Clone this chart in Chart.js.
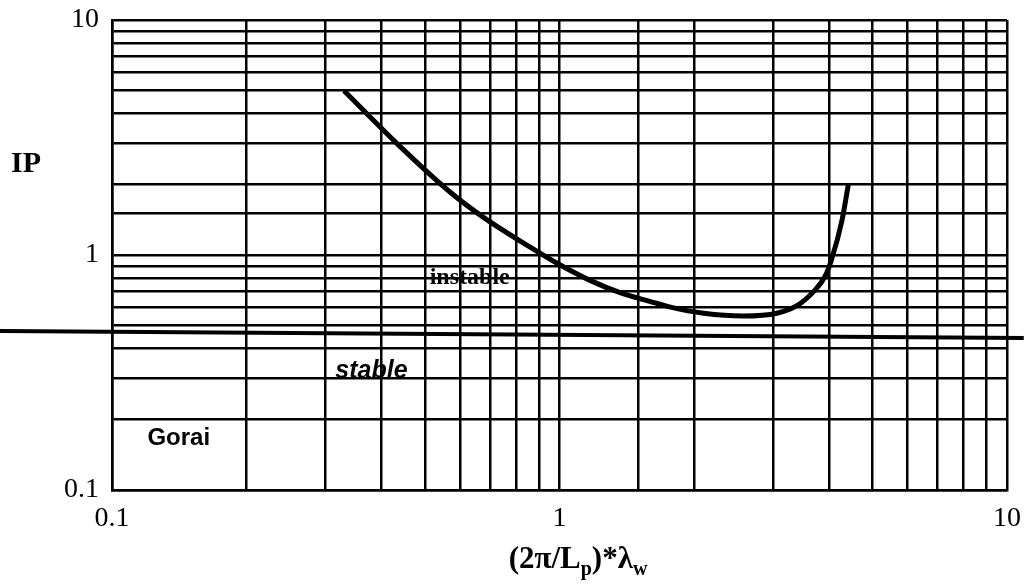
<!DOCTYPE html>
<html>
<head>
<meta charset="utf-8">
<script src="https://cdn.jsdelivr.net/npm/chart.js@4"></script>
<style>
  html, body { margin: 0; padding: 0; background: #fff; }
  #wrap { width: 1026px; height: 585px; }
</style>
</head>
<body>
<div id="wrap"><canvas id="c" width="1026" height="585"></canvas></div>
<script>
// ---- data ----
const waveX = [0.33, 0.44, 0.57, 0.675, 0.86, 0.99, 1.17, 1.37, 1.59, 1.77, 2.1, 2.57, 3.06, 3.4, 3.7, 3.92, 4.05, 4.28, 4.42];
const ipValues = [5.0, 2.9, 1.85, 1.45, 1.08, 0.92, 0.78, 0.69, 0.635, 0.6, 0.565, 0.55, 0.565, 0.61, 0.7, 0.81, 0.95, 1.41, 1.99];
const boundaryX = [0.056, 10.9];
const boundaryY = [0.475, 0.443];
const tickLabels = ['0.1', '1', '10'];
const axisMin = 0.1, axisMax = 10;

const curve = waveX.map((x, i) => ({ x: x, y: ipValues[i] }));
const boundary = boundaryX.map((x, i) => ({ x: x, y: boundaryY[i] }));

function decadeLabel(v) {
  const l = Math.log10(v);
  if (Math.abs(l - Math.round(l)) < 1e-6) {
    const idx = Math.round(l) + 1;
    return tickLabels[idx] !== undefined ? tickLabels[idx] : '';
  }
  return '';
}

function noOverhang(s) {
  s.paddingTop = 0; s.paddingBottom = 0; s.paddingLeft = 0; s.paddingRight = 0;
}

const textPlugin = {
  id: 'texts',
  afterDraw(chart) {
    const ctx = chart.ctx;
    const xs = chart.scales.x, ys = chart.scales.y;
    ctx.save();
    ctx.fillStyle = '#000';
    // y title
    ctx.font = 'bold 30px "Liberation Serif", serif';
    ctx.textAlign = 'left';
    ctx.textBaseline = 'alphabetic';
    ctx.fillText('IP', 11, 172);
    // region labels
    ctx.textAlign = 'center';
    ctx.textBaseline = 'middle';
    ctx.font = 'bold 24px "Liberation Serif", serif';
    ctx.fillText('instable', xs.getPixelForValue(0.63), ys.getPixelForValue(0.8));
    ctx.font = 'italic bold 25px "Liberation Sans", sans-serif';
    ctx.fillText('stable', xs.getPixelForValue(0.38), ys.getPixelForValue(0.32));
    ctx.font = 'bold 24px "Liberation Sans", sans-serif';
    ctx.fillText('Gorai', xs.getPixelForValue(0.141), ys.getPixelForValue(0.166));
    // x title with subscripts
    const big = 'bold 31px "Liberation Serif", serif';
    const small = 'bold 20px "Liberation Serif", serif';
    const parts = [['(2π/L', big, 0], ['p', small, 7], [')*λ', big, 0], ['w', small, 7]];
    let total = 0;
    parts.forEach(p => { ctx.font = p[1]; total += ctx.measureText(p[0]).width; });
    let cx = 578 - total / 2;
    const base = 568;
    ctx.textAlign = 'left';
    ctx.textBaseline = 'alphabetic';
    parts.forEach(p => {
      ctx.font = p[1];
      ctx.fillText(p[0], cx, base + p[2]);
      cx += ctx.measureText(p[0]).width;
    });
    ctx.restore();
  }
};

new Chart(document.getElementById('c'), {
  type: 'scatter',
  data: {
    datasets: [
      {
        label: 'IP',
        data: curve,
        showLine: true,
        borderColor: '#000',
        borderWidth: 5,
        pointRadius: 0,
        cubicInterpolationMode: 'monotone',
        fill: false
      },
      {
        label: 'boundary',
        data: boundary,
        showLine: true,
        borderColor: '#000',
        borderWidth: 4,
        pointRadius: 0,
        clip: false,
        fill: false
      }
    ]
  },
  options: {
    responsive: false,
    animation: false,
    devicePixelRatio: 1,
    layout: { padding: { top: 20, right: 19, left: 0, bottom: 0 } },
    plugins: { legend: { display: false }, tooltip: { enabled: false } },
    scales: {
      x: {
        type: 'logarithmic',
        min: axisMin, max: axisMax,
        afterFit(s) { s.height = 95; noOverhang(s); },
        grid: { color: '#000', lineWidth: 2.5, drawTicks: false },
        border: { color: '#000', width: 2.5 },
        ticks: {
          autoSkip: false, maxRotation: 0, padding: 12,
          color: '#000',
          font: { family: '"Liberation Serif", serif', size: 28 },
          callback: (v) => decadeLabel(v)
        }
      },
      y: {
        type: 'logarithmic',
        min: axisMin, max: axisMax,
        afterFit(s) { s.width = 112; noOverhang(s); },
        grid: { color: '#000', lineWidth: 2.5, drawTicks: false },
        border: { color: '#000', width: 2.5 },
        ticks: {
          autoSkip: false, padding: 13,
          color: '#000',
          font: { family: '"Liberation Serif", serif', size: 28 },
          callback: (v) => decadeLabel(v)
        }
      }
    }
  },
  plugins: [textPlugin]
});
</script>
</body>
</html>
